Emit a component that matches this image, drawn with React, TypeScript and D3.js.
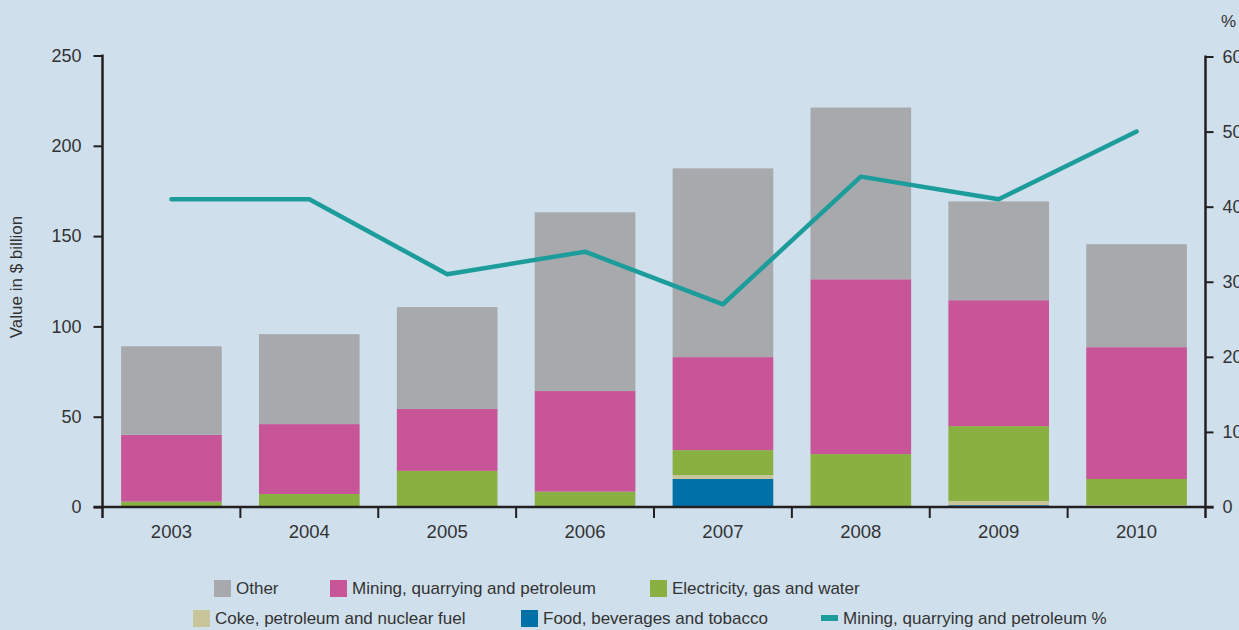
import React, { useRef, useEffect } from 'react';
import * as d3 from 'd3';

const years = ['2003', '2004', '2005', '2006', '2007', '2008', '2009', '2010'];
const food = [0, 0, 0, 0, 15.5, 0, 1, 0];
const coke = [0, 0, 0, 0.5, 2.2, 0, 2.3, 1];
const electricity = [3, 7.2, 20, 8, 13.8, 29.3, 41.5, 14.5];
const mining = [37, 38.7, 34.3, 55.7, 51.5, 96.8, 69.7, 73];
const other = [49, 49.8, 56.4, 99, 104.5, 95.1, 54.7, 57];
const miningPct = [41, 41, 31, 34, 27, 44, 41, 50];

const leftTicks = [0, 50, 100, 150, 200, 250];
const rightTicks = [0, 10, 20, 30, 40, 50, 60];

const seriesKeys = ['food', 'coke', 'electricity', 'mining', 'other'];
const seriesColors: Record<string, string> = {
    food: '#0071a7',
    coke: '#c9c59b',
    electricity: '#8bb042',
    mining: '#c85597',
    other: '#a8a9ad',
};
const lineColor = '#1c9d9b';

const FONT = '"Liberation Sans", Arial, sans-serif';

const App: React.FC = () => {
    const ref = useRef<SVGSVGElement | null>(null);

    useEffect(() => {
        document.body.style.margin = '0';
        if (!ref.current) return;
        const W = 1239, H = 630;
        const left = 102.5, right = 1205.5, top = 55.5, bottom = 507;

        const svg = d3.select(ref.current);
        svg.selectAll('*').remove();
        svg.attr('width', W).attr('height', H).style('display', 'block');

        svg.append('rect').attr('width', W).attr('height', H).attr('fill', '#cfdfec');

        const x = d3.scaleBand<string>().domain(years).range([left, right]).padding(0);
        const y = d3.scaleLinear().domain([0, 250]).range([bottom, top]);
        const yPct = d3.scaleLinear().domain([0, 60]).range([bottom, top + 1]);

        const table = years.map((yr, i) => ({
            year: yr,
            food: food[i],
            coke: coke[i],
            electricity: electricity[i],
            mining: mining[i],
            other: other[i],
        }));
        const stacked = d3.stack<any>().keys(seriesKeys)(table);

        const barW = x.bandwidth() * 0.73;
        const off = (x.bandwidth() - barW) / 2;

        svg.append('g')
            .selectAll('g')
            .data(stacked)
            .join('g')
            .attr('fill', d => seriesColors[d.key])
            .selectAll('rect')
            .data(d => d)
            .join('rect')
            .attr('x', d => (x(d.data.year) as number) + off)
            .attr('width', barW)
            .attr('y', d => y(d[1]))
            .attr('height', d => Math.max(0, y(d[0]) - y(d[1])));

        const axisColor = '#231f20';
        const textColor = '#333';

        // left axis
        const gl = svg.append('g')
            .attr('transform', `translate(${left},0)`)
            .call(d3.axisLeft(y).tickValues(leftTicks).tickSize(9).tickPadding(12));
        gl.select('.domain').remove();
        gl.selectAll('line').attr('stroke', axisColor).attr('stroke-width', 2);
        gl.selectAll('text').attr('font-family', FONT).attr('font-size', 18).attr('fill', textColor);
        svg.append('line').attr('x1', left).attr('x2', left).attr('y1', top - 1).attr('y2', bottom + 11)
            .attr('stroke', axisColor).attr('stroke-width', 2.5);

        // right axis
        const gr = svg.append('g')
            .attr('transform', `translate(${right},0)`)
            .call(d3.axisRight(yPct).tickValues(rightTicks).tickSize(8).tickPadding(9));
        gr.select('.domain').remove();
        gr.selectAll('line').attr('stroke', axisColor).attr('stroke-width', 2);
        gr.selectAll('text').attr('font-family', FONT).attr('font-size', 18).attr('fill', textColor);
        svg.append('line').attr('x1', right).attr('x2', right).attr('y1', top).attr('y2', bottom + 11)
            .attr('stroke', axisColor).attr('stroke-width', 2.5);

        // x axis
        svg.append('line').attr('x1', left - 9).attr('x2', right + 8).attr('y1', bottom).attr('y2', bottom)
            .attr('stroke', axisColor).attr('stroke-width', 2.5);
        svg.append('g')
            .selectAll('line')
            .data(years.slice(1))
            .join('line')
            .attr('x1', d => x(d) as number)
            .attr('x2', d => x(d) as number)
            .attr('y1', bottom)
            .attr('y2', bottom + 11)
            .attr('stroke', axisColor)
            .attr('stroke-width', 2);
        svg.append('g')
            .selectAll('text')
            .data(years)
            .join('text')
            .attr('x', d => (x(d) as number) + x.bandwidth() / 2)
            .attr('y', bottom + 31)
            .attr('text-anchor', 'middle')
            .attr('font-family', FONT)
            .attr('font-size', 18.5)
            .attr('fill', textColor)
            .text(d => d);

        // axis titles
        svg.append('text')
            .attr('transform', `translate(22,277) rotate(-90)`)
            .attr('text-anchor', 'middle')
            .attr('font-family', FONT)
            .attr('font-size', 17)
            .attr('fill', textColor)
            .text('Value in $ billion');
        svg.append('text')
            .attr('x', 1221).attr('y', 27)
            .attr('font-family', FONT).attr('font-size', 17).attr('fill', textColor)
            .text('%');

        // line
        const line = d3.line<number>()
            .x((_, i) => (x(years[i]) as number) + x.bandwidth() / 2)
            .y(d => yPct(d));
        svg.append('path')
            .datum(miningPct)
            .attr('d', line)
            .attr('fill', 'none')
            .attr('stroke', lineColor)
            .attr('stroke-width', 4.5)
            .attr('stroke-linecap', 'round')
            .attr('stroke-linejoin', 'round');

        // legend
        const legendItems = [
            { label: 'Other', color: seriesColors.other, x: 214, y: 588, kind: 'box' },
            { label: 'Mining, quarrying and petroleum', color: seriesColors.mining, x: 330, y: 588, kind: 'box' },
            { label: 'Electricity, gas and water', color: seriesColors.electricity, x: 650, y: 588, kind: 'box' },
            { label: 'Coke, petroleum and nuclear fuel', color: seriesColors.coke, x: 193, y: 618, kind: 'box' },
            { label: 'Food, beverages and tobacco', color: seriesColors.food, x: 521, y: 618, kind: 'box' },
            { label: 'Mining, quarrying and petroleum %', color: lineColor, x: 821, y: 618, kind: 'line' },
        ];
        const lg = svg.append('g').selectAll('g').data(legendItems).join('g')
            .attr('transform', d => `translate(${d.x},${d.y})`);
        lg.filter(d => d.kind === 'box').append('rect')
            .attr('x', 0).attr('y', -8).attr('width', 17).attr('height', 17).attr('fill', d => d.color);
        lg.filter(d => d.kind === 'line').append('rect')
            .attr('x', 0).attr('y', -3).attr('width', 17).attr('height', 6).attr('fill', d => d.color);
        lg.append('text')
            .attr('x', 22).attr('y', 6)
            .attr('font-family', FONT).attr('font-size', 17).attr('fill', textColor)
            .text(d => d.label);
    }, []);

    return <svg ref={ref} />;
};

export default App;
